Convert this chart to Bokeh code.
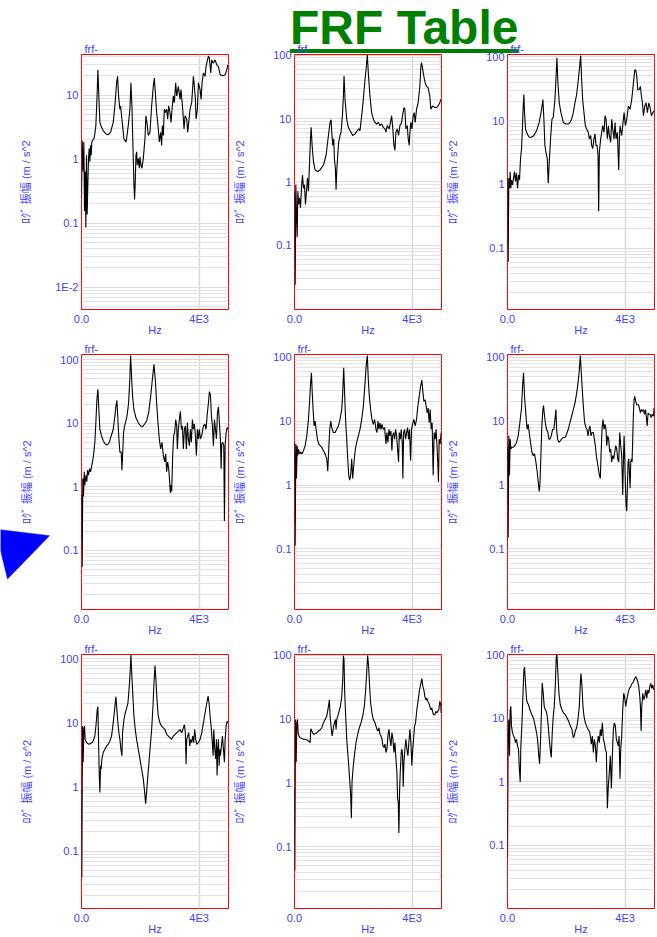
from bokeh.plotting import figure
from bokeh.layouts import column, row
from bokeh.models import Div, FixedTicker, Range1d
from bokeh.embed import file_html
from bokeh.resources import INLINE

# ---------------- data (frequency in Hz, magnitude in m/s^2) ----------------
f1 = [0, 23, 57, 80, 102, 125, 148, 170, 193, 216,
      239, 261, 284, 307, 330, 352, 375, 420, 454, 488,
      511, 534, 557, 579, 602, 625, 682, 738, 829, 909,
      988, 1079, 1136, 1193, 1227, 1261, 1306, 1329, 1397, 1443,
      1511, 1534, 1590, 1647, 1681, 1715, 1738, 1761, 1784, 1806,
      1829, 1852, 1875, 1897, 1931, 1965, 1988, 2022, 2056, 2102,
      2158, 2192, 2238, 2272, 2329, 2386, 2442, 2477, 2511, 2556,
      2613, 2647, 2692, 2726, 2749, 2783, 2817, 2851, 2897, 2931,
      2965, 3010, 3045, 3079, 3124, 3158, 3204, 3238, 3295, 3351,
      3385, 3442, 3488, 3522, 3578, 3613, 3647, 3692, 3749, 3806,
      3840, 3874, 3897, 3942, 3976, 4033, 4067, 4101, 4146, 4203,
      4237, 4271, 4317, 4351, 4396, 4430, 4487, 4544, 4601, 4658,
      4715, 4806, 4885, 4942, 4976]
a1 = [0.25, 1.96, 0.64, 1.85, 0.155, 0.64, 0.086, 1.15, 0.137, 0.40,
      1.02, 1.46, 0.91, 1.64, 1.15, 1.85, 1.96, 2.08, 2.48, 3.33,
      6.02, 10.9, 24.8, 13.7, 6.77, 3.75, 3.14, 2.79, 2.48, 2.40,
      2.63, 3.75, 6.77, 15.5, 19.6, 9.66, 6.02, 6.77, 3.33, 2.08,
      1.85, 2.08, 3.33, 6.02, 15.5, 6.77, 2.63, 1.02, 0.40, 0.234,
      0.45, 1.15, 1.30, 0.81, 1.02, 0.72, 1.08, 0.81, 0.72, 1.02,
      2.08, 4.75, 3.33, 2.34, 2.63, 6.77, 13.7, 18.5, 10.9, 5.35,
      2.96, 1.85, 2.63, 1.64, 3.33, 2.34, 6.02, 5.35, 6.02, 4.22,
      6.77, 5.35, 3.75, 6.02, 9.66, 7.62, 15.5, 9.66, 13.7, 8.58,
      12.2, 6.02, 2.96, 4.75, 4.22, 2.63, 3.75, 6.02, 7.62, 19.6,
      13.7, 8.58, 4.22, 6.02, 15.5, 12.2, 8.58, 15.5, 22.1, 19.6,
      27.9, 33.3, 40.7, 37.5, 22.1, 35.4, 31.4, 35.4, 29.6, 27.9,
      20.8, 20.1, 20.8, 24.8, 29.6]

f2 = [0, 23, 45, 68, 90, 113, 136, 170, 204, 238,
      271, 305, 339, 373, 407, 441, 475, 509, 543, 566,
      599, 645, 701, 780, 871, 984, 1074, 1154, 1210, 1244,
      1267, 1301, 1335, 1357, 1391, 1414, 1436, 1470, 1504, 1549,
      1583, 1629, 1663, 1685, 1719, 1776, 1832, 1889, 1979, 2058,
      2138, 2183, 2228, 2285, 2341, 2398, 2443, 2477, 2511, 2567,
      2624, 2681, 2737, 2794, 2850, 2907, 2963, 3020, 3076, 3110,
      3155, 3223, 3303, 3336, 3382, 3416, 3450, 3495, 3540, 3585,
      3642, 3676, 3721, 3755, 3789, 3834, 3868, 3902, 3925, 3959,
      3992, 4038, 4072, 4106, 4151, 4207, 4264, 4298, 4320, 4354,
      4400, 4445, 4490, 4547, 4603, 4637, 4694, 4773, 4829, 4886,
      4943, 4976]
a2 = [0.713, 0.024, 0.905, 0.31, 0.135, 0.713, 0.443, 0.562, 0.393, 0.80,
      1.29, 0.80, 0.905, 0.443, 0.713, 1.15, 0.713, 1.85, 4.80, 7.28,
      3.78, 2.08, 1.55, 1.46, 1.55, 1.85, 2.64, 5.40, 8.69, 9.57,
      6.09, 3.78, 4.80, 2.35, 1.64, 0.757, 1.46, 2.64, 4.26, 5.40,
      6.09, 11.0, 22.6, 47.2, 20.0, 9.80, 7.28, 6.46, 5.40, 5.73,
      6.46, 6.86, 6.46, 11.0, 20.0, 40.9, 65.9, 100, 51.9, 22.6,
      12.4, 9.80, 8.69, 8.20, 8.69, 7.73, 8.20, 7.28, 6.86, 6.09,
      7.73, 6.86, 11.0, 7.73, 3.78, 3.16, 6.09, 6.86, 5.40, 7.73,
      8.69, 11.0, 14.9, 14.0, 6.86, 7.73, 4.80, 3.78, 6.09, 8.69,
      6.86, 11.0, 12.4, 8.69, 14.0, 17.8, 32.3, 65.9, 76, 62.1,
      46.1, 36.3, 32.3, 30.4, 22.6, 14.0, 15.8, 14.9, 14.9, 15.8,
      17.8, 20.0]

f3 = [0, 23, 45, 68, 91, 114, 136, 170, 204, 239,
      273, 307, 341, 375, 409, 443, 477, 511, 534, 557,
      579, 613, 670, 738, 818, 897, 988, 1079, 1159, 1204,
      1238, 1272, 1306, 1352, 1386, 1420, 1465, 1511, 1556, 1613,
      1647, 1681, 1715, 1760, 1818, 1897, 1988, 2068, 2124, 2181,
      2238, 2295, 2352, 2408, 2454, 2488, 2522, 2556, 2601, 2647,
      2692, 2749, 2783, 2829, 2863, 2897, 2942, 2976, 3010, 3045,
      3079, 3101, 3124, 3170, 3204, 3238, 3283, 3317, 3351, 3397,
      3431, 3465, 3510, 3544, 3578, 3624, 3658, 3692, 3737, 3783,
      3806, 3828, 3885, 3919, 3965, 4010, 4056, 4112, 4169, 4226,
      4283, 4328, 4362, 4396, 4430, 4476, 4521, 4555, 4589, 4624,
      4669, 4714, 4760, 4805, 4851, 4896, 4942, 4987]
a3 = [1.25, 0.061, 1.25, 0.87, 1.58, 0.87, 1.17, 0.98, 1.25, 1.58,
      1.11, 1.49, 0.87, 1.40, 1.17, 2.54, 3.62, 8.30, 16.9, 25.6,
      13.3, 7.38, 6.18, 5.48, 5.48, 5.82, 6.95, 9.35, 15.0, 21.4,
      10.5, 4.08, 3.21, 2.54, 1.04, 2.25, 5.17, 10.5, 11.2, 21.4,
      43.6, 96.5, 38.7, 19.0, 13.3, 9.35, 8.81, 8.81, 9.35, 10.5,
      13.3, 19.0, 25.6, 43.6, 70.2, 105, 43.6, 21.4, 13.3, 8.30,
      7.38, 6.55, 5.17, 5.82, 4.08, 3.62, 5.17, 6.18, 4.08, 4.08,
      2.86, 0.38, 3.21, 5.17, 6.55, 8.30, 6.55, 11.9, 10.5, 5.17,
      8.30, 5.82, 4.59, 10.5, 7.38, 5.17, 9.35, 5.17, 6.55, 1.68,
      5.17, 8.30, 5.82, 8.30, 13.3, 8.30, 10.5, 16.9, 15.0, 21.4,
      38.7, 62.2, 62.2, 49.1, 30.6, 30.6, 34.4, 24.1, 19.0, 11.9,
      16.9, 19.0, 13.3, 19.0, 15.9, 11.9, 13.3, 14.2]

f4 = [0, 23, 45, 68, 91, 114, 136, 159, 182, 204,
      239, 273, 307, 341, 375, 409, 454, 488, 523, 557,
      591, 625, 682, 738, 807, 875, 943, 1011, 1079, 1136,
      1170, 1204, 1238, 1272, 1306, 1352, 1375, 1397, 1431, 1465,
      1511, 1556, 1602, 1647, 1670, 1704, 1738, 1784, 1852, 1931,
      2011, 2079, 2147, 2215, 2283, 2352, 2420, 2465, 2511, 2556,
      2601, 2647, 2692, 2738, 2783, 2829, 2863, 2897, 2931, 2965,
      2999, 3022, 3045, 3067, 3101, 3135, 3169, 3204, 3238, 3260,
      3294, 3328, 3363, 3397, 3431, 3465, 3499, 3533, 3567, 3601,
      3635, 3669, 3703, 3737, 3772, 3806, 3840, 3874, 3908, 3942,
      3976, 4010, 4044, 4090, 4146, 4192, 4237, 4271, 4317, 4351,
      4385, 4419, 4453, 4487, 4521, 4556, 4590, 4624, 4658, 4692,
      4726, 4749, 4771, 4805, 4839, 4862, 4885, 4919, 4953, 4987]
a4 = [0.75, 0.055, 1.36, 0.71, 1.73, 1.07, 1.36, 1.53, 1.21, 1.83,
      1.53, 1.94, 1.73, 2.06, 2.47, 3.13, 5.03, 10.2, 23.5, 34.3,
      16.4, 8.07, 6.37, 5.34, 4.73, 4.57, 5.03, 6.37, 8.07, 13.0,
      18.5, 22.9, 11.5, 5.66, 3.52, 3.52, 1.83, 3.13, 7.17, 9.10,
      10.9, 13.8, 20.9, 54, 117, 54, 26.5, 16.4, 12.2, 10.2,
      9.10, 8.88, 9.76, 10.9, 14.6, 26.5, 54, 84.7, 47.9, 20.9,
      10.2, 5.66, 3.96, 5.03, 3.13, 2.47, 3.32, 1.73, 2.47, 1.94,
      1.21, 0.80, 1.07, 0.85, 3.13, 6.37, 7.17, 11.5, 9.10, 3.96,
      8.07, 11.5, 15.5, 8.07, 9.10, 3.96, 8.07, 9.10, 3.96, 10.2,
      5.66, 4.46, 8.07, 5.03, 11.5, 8.07, 9.76, 6.37, 3.13, 8.07,
      5.66, 8.07, 5.66, 6.37, 9.10, 9.76, 8.07, 13.0, 20.9, 31.6,
      28.1, 13.0, 9.10, 4.46, 11.5, 8.07, 5.66, 14.6, 18.1, 10.2,
      5.34, 1.94, 4.73, 5.03, 4.46, 0.29, 4.46, 7.17, 8.57, 8.07]

f5 = [0, 23, 45, 68, 90, 113, 136, 170, 215, 260,
      305, 362, 418, 475, 509, 543, 577, 599, 633, 667,
      701, 735, 780, 826, 871, 927, 984, 1041, 1097, 1131,
      1165, 1199, 1233, 1267, 1323, 1380, 1436, 1493, 1549, 1606,
      1640, 1674, 1708, 1742, 1776, 1810, 1844, 1877, 1911, 1945,
      1979, 2025, 2070, 2115, 2172, 2228, 2285, 2341, 2398, 2443,
      2477, 2511, 2545, 2590, 2635, 2681, 2726, 2771, 2805, 2839,
      2873, 2907, 2941, 2975, 3020, 3065, 3110, 3144, 3178, 3212,
      3246, 3280, 3314, 3336, 3370, 3404, 3438, 3472, 3506, 3540,
      3563, 3597, 3631, 3664, 3687, 3710, 3744, 3778, 3811, 3845,
      3879, 3913, 3947, 3981, 4015, 4060, 4106, 4151, 4196, 4241,
      4286, 4332, 4366, 4400, 4445, 4479, 4513, 4547, 4581, 4615,
      4649, 4682, 4716, 4750, 4784, 4818, 4852, 4875, 4897, 4920,
      4954, 4988]
a5 = [4.64, 0.112, 4.37, 1.27, 4.12, 2.89, 3.66, 3.07, 3.26, 3.07,
      3.45, 4.12, 5.87, 10.6, 19.1, 36.7, 56.7, 30.7, 15.1, 8.38,
      10.0, 7.44, 5.22, 4.37, 4.12, 3.89, 3.45, 3.07, 2.57, 1.64,
      3.66, 7.44, 10.0, 7.89, 6.62, 6.62, 7.44, 8.38, 10.6, 15.1,
      27.3, 68.5, 24.3, 9.43, 5.22, 2.57, 1.42, 1.19, 1.42, 2.57,
      1.27, 2.29, 3.66, 4.64, 5.87, 7.44, 10.6, 17.0, 38.9, 78.9,
      106, 43.8, 24.3, 15.1, 10.6, 8.89, 10.6, 7.44, 6.62, 10.0,
      7.44, 9.43, 7.44, 8.89, 7.44, 7.89, 4.37, 6.62, 4.64, 7.44,
      5.87, 7.02, 3.45, 5.87, 6.62, 5.22, 7.44, 5.87, 3.66, 2.29,
      6.62, 5.22, 7.44, 4.64, 1.27, 6.62, 7.44, 5.22, 6.62, 7.89,
      5.22, 7.44, 2.43, 7.44, 8.89, 10.6, 8.38, 10.6, 17.0, 24.3,
      34.5, 43.8, 28.9, 20.3, 21.5, 17.0, 13.4, 16.0, 9.43, 15.1,
      7.44, 9.43, 1.42, 6.62, 5.22, 7.44, 3.66, 2.15, 1.12, 5.22,
      4.37, 6.62]

f6 = [0, 23, 45, 68, 91, 114, 148, 193, 250, 307,
      364, 420, 477, 511, 545, 579, 613, 648, 670, 704,
      738, 784, 829, 875, 920, 966, 1011, 1056, 1079, 1102,
      1136, 1170, 1204, 1227, 1261, 1295, 1329, 1375, 1409, 1443,
      1488, 1534, 1579, 1613, 1647, 1670, 1704, 1749, 1795, 1840,
      1897, 1954, 2011, 2068, 2124, 2181, 2238, 2295, 2352, 2397,
      2442, 2477, 2511, 2545, 2579, 2624, 2670, 2704, 2738, 2772,
      2806, 2840, 2874, 2920, 2954, 2988, 3022, 3056, 3090, 3124,
      3158, 3181, 3215, 3249, 3283, 3317, 3351, 3374, 3408, 3442,
      3476, 3510, 3544, 3578, 3612, 3647, 3681, 3715, 3749, 3783,
      3817, 3851, 3885, 3919, 3942, 3965, 3988, 4010, 4033, 4056,
      4078, 4101, 4124, 4146, 4169, 4192, 4215, 4237, 4260, 4283,
      4306, 4328, 4362, 4396, 4453, 4487, 4521, 4555, 4589, 4624,
      4658, 4692, 4726, 4749, 4783, 4817, 4851, 4885, 4919, 4965,
      4987]
a6 = [4.12, 0.151, 5.87, 1.42, 5.22, 3.66, 3.89, 3.89, 4.12, 4.64,
      5.87, 9.43, 16.0, 34.5, 56.7, 24.3, 15.1, 9.43, 7.44, 8.89,
      6.62, 4.64, 3.26, 2.89, 3.07, 2.29, 1.60, 1.0, 0.79, 1.0,
      2.89, 8.89, 15.1, 17.4, 11.9, 8.89, 7.44, 6.62, 5.22, 5.22,
      5.87, 7.44, 7.44, 10.6, 15.1, 7.44, 5.22, 4.64, 4.92, 5.22,
      5.54, 5.54, 6.24, 7.44, 9.43, 11.9, 15.1, 19.1, 27.3, 38.9,
      62.4, 106, 55.4, 30.7, 17.0, 9.43, 7.89, 7.44, 5.87, 7.44,
      8.38, 5.87, 6.62, 6.62, 5.22, 4.12, 2.89, 2.29, 1.80, 1.42,
      1.27, 2.89, 7.44, 10.6, 7.44, 8.89, 7.44, 4.12, 5.87, 5.22,
      3.26, 3.66, 2.29, 2.89, 2.57, 3.26, 4.12, 3.66, 2.57, 2.29,
      6.62, 4.12, 2.89, 0.70, 2.29, 5.87, 2.57, 1.0, 0.49, 0.39,
      0.89, 2.29, 2.57, 1.60, 0.89, 2.29, 2.57, 2.29, 5.22, 13.4,
      21.5, 24.3, 20.3, 18.0, 18.0, 16.0, 13.4, 15.1, 14.3, 15.1,
      12.7, 15.1, 11.3, 8.38, 13.4, 12.7, 12.7, 11.3, 12.7, 11.9,
      16.0]

f7 = [0, 11, 34, 57, 80, 102, 125, 148, 193, 261,
      329, 398, 454, 500, 534, 557, 579, 602, 625, 648,
      670, 693, 738, 795, 852, 909, 966, 1022, 1079, 1125,
      1170, 1204, 1238, 1272, 1306, 1340, 1375, 1397, 1443, 1488,
      1534, 1579, 1624, 1659, 1681, 1715, 1749, 1784, 1829, 1874,
      1931, 1988, 2045, 2102, 2147, 2181, 2215, 2249, 2295, 2340,
      2386, 2431, 2465, 2499, 2533, 2567, 2613, 2670, 2726, 2783,
      2840, 2897, 2954, 3010, 3067, 3124, 3181, 3238, 3294, 3351,
      3408, 3465, 3499, 3533, 3556, 3578, 3612, 3647, 3681, 3715,
      3749, 3783, 3817, 3851, 3885, 3919, 3976, 4033, 4090, 4146,
      4203, 4260, 4306, 4340, 4374, 4408, 4442, 4476, 4499, 4533,
      4567, 4590, 4612, 4635, 4658, 4681, 4703, 4726, 4760, 4794,
      4828, 4862, 4885, 4919, 4953, 4987]
a7 = [0.94, 0.039, 8.89, 2.43, 8.38, 8.89, 5.54, 5.22, 4.81, 4.64,
      4.81, 5.22, 6.24, 10.0, 16.0, 18.0, 5.54, 1.70, 0.82, 2.15,
      1.91, 2.73, 3.45, 3.89, 4.37, 4.64, 5.22, 6.24, 10.0, 16.0,
      25.7, 16.0, 10.0, 7.02, 5.54, 3.89, 3.07, 7.02, 11.3, 14.3,
      17.0, 20.3, 36.6, 66.2, 115, 52.3, 25.7, 12.7, 7.89, 5.54,
      3.89, 2.73, 1.91, 1.34, 0.84, 0.55, 0.84, 1.34, 2.43, 4.37,
      7.89, 18.0, 41.3, 78.9, 46.4, 22.9, 12.7, 10.0, 8.89, 8.38,
      7.89, 6.62, 6.24, 5.87, 5.54, 6.24, 6.62, 7.02, 7.44, 7.89,
      7.02, 8.38, 9.43, 7.02, 2.29, 5.54, 6.24, 7.02, 4.37, 5.54,
      4.92, 6.24, 4.92, 7.89, 5.54, 4.64, 4.92, 5.54, 7.02, 10.0,
      14.3, 20.3, 26.3, 20.3, 12.7, 8.89, 5.54, 3.07, 7.89, 3.89,
      2.73, 5.54, 1.51, 3.89, 5.54, 2.15, 3.89, 3.07, 4.37, 6.24,
      3.89, 2.43, 5.54, 8.89, 10.6, 10.0]

f8 = [0, 11, 34, 57, 79, 102, 124, 147, 192, 249,
      305, 362, 418, 475, 532, 554, 588, 645, 701, 758,
      814, 871, 927, 984, 1041, 1097, 1154, 1188, 1210, 1244,
      1278, 1301, 1323, 1357, 1391, 1414, 1436, 1470, 1516, 1561,
      1606, 1640, 1663, 1685, 1708, 1742, 1776, 1810, 1844, 1889,
      1911, 1934, 1957, 1991, 2036, 2092, 2149, 2205, 2262, 2319,
      2375, 2420, 2454, 2488, 2522, 2556, 2590, 2635, 2681, 2737,
      2771, 2805, 2839, 2873, 2907, 2941, 2975, 3008, 3042, 3076,
      3110, 3144, 3178, 3212, 3246, 3280, 3314, 3348, 3382, 3416,
      3450, 3483, 3506, 3529, 3551, 3574, 3597, 3631, 3653, 3676,
      3698, 3721, 3755, 3789, 3823, 3857, 3891, 3925, 3959, 3992,
      4015, 4049, 4083, 4117, 4162, 4207, 4253, 4298, 4332, 4366,
      4400, 4434, 4467, 4501, 4535, 4569, 4603, 4637, 4671, 4705,
      4739, 4773, 4807, 4841, 4875, 4909, 4943, 4976, 4988]
a8 = [0.82, 0.042, 9.88, 2.11, 8.78, 9.88, 6.15, 5.46, 5.14, 4.96,
      4.85, 4.85, 4.73, 4.57, 4.31, 7.09, 6.52, 5.79, 5.93, 6.15,
      6.52, 6.76, 7.35, 8.78, 9.88, 11.1, 15.9, 20.1, 11.1, 7.80,
      5.46, 6.15, 7.35, 8.78, 9.88, 6.92, 9.88, 11.1, 13.3, 15.9,
      22.7, 41.0, 100, 83.7, 25.5, 11.1, 4.85, 3.01, 1.88, 0.92,
      0.64, 0.28, 1.04, 1.67, 2.68, 4.31, 5.79, 7.35, 8.78, 11.1,
      15.9, 28.8, 52.0, 100, 66.1, 32.4, 17.9, 12.5, 9.88, 8.78,
      7.80, 6.92, 6.52, 7.35, 5.79, 5.46, 4.85, 3.82, 3.60, 4.06,
      3.01, 3.40, 5.46, 6.92, 4.85, 3.82, 6.15, 4.85, 3.01, 4.31,
      2.38, 1.48, 0.57, 0.51, 0.164, 0.73, 1.48, 3.01, 3.40, 2.68,
      0.87, 2.11, 3.40, 4.85, 3.40, 2.68, 4.31, 6.92, 4.31, 1.88,
      3.01, 4.85, 7.80, 8.78, 14.1, 20.1, 28.8, 36.5, 43.5, 32.4,
      28.8, 22.7, 20.1, 21.4, 19.0, 17.9, 15.9, 14.1, 15.0, 12.5,
      11.8, 11.8, 13.3, 12.5, 13.3, 14.1, 19.0, 16.9, 12.5]

f9 = [0, 23, 45, 68, 91, 114, 136, 170, 204, 239,
      273, 307, 341, 375, 398, 432, 454, 488, 523, 557,
      579, 613, 648, 682, 716, 761, 807, 852, 897, 943,
      988, 1022, 1056, 1091, 1125, 1159, 1181, 1215, 1249, 1284,
      1318, 1352, 1386, 1420, 1454, 1488, 1522, 1556, 1590, 1624,
      1659, 1681, 1715, 1749, 1795, 1852, 1908, 1965, 2022, 2079,
      2136, 2192, 2238, 2272, 2306, 2352, 2397, 2442, 2477, 2499,
      2533, 2567, 2601, 2647, 2692, 2738, 2783, 2817, 2851, 2885,
      2920, 2954, 2988, 3022, 3056, 3090, 3124, 3158, 3192, 3226,
      3260, 3294, 3328, 3363, 3397, 3431, 3465, 3499, 3533, 3567,
      3601, 3635, 3669, 3703, 3737, 3772, 3794, 3828, 3851, 3885,
      3919, 3953, 3987, 4022, 4056, 4101, 4147, 4192, 4237, 4283,
      4328, 4362, 4396, 4430, 4465, 4499, 4521, 4544, 4567, 4601,
      4635, 4669, 4703, 4737, 4771, 4806, 4840, 4874, 4908, 4942,
      4976]
a9 = [0.064, 5.89, 9.48, 2.56, 13.5, 15.3, 7.47, 5.89, 5.23, 4.93,
      4.12, 4.64, 3.66, 3.25, 1.79, 0.99, 3.66, 7.47, 21.8, 56.5,
      63.7, 35.1, 19.4, 17.2, 16.2, 13.5, 12.0, 10.7, 9.48, 7.47,
      5.89, 4.64, 2.88, 1.90, 4.64, 15.3, 35.9, 24.6, 15.3, 13.5,
      12.8, 10.7, 7.47, 4.64, 3.25, 2.41, 5.89, 10.7, 15.3, 31.2,
      90.9, 100, 50.1, 24.6, 16.2, 13.5, 12.0, 11.3, 10.1, 8.93,
      7.47, 6.64, 4.93, 5.23, 6.25, 7.04, 9.48, 15.3, 35.1, 50.1,
      31.2, 15.3, 10.7, 8.42, 7.47, 6.64, 6.25, 5.23, 3.88, 5.23,
      2.88, 4.64, 3.66, 2.02, 4.12, 5.23, 4.12, 6.64, 5.23, 8.42,
      4.64, 4.12, 3.25, 2.88, 0.38, 0.88, 1.41, 2.56, 0.78, 2.56,
      6.64, 8.42, 7.47, 4.64, 4.12, 3.66, 5.23, 1.11, 3.25, 5.23,
      13.5, 24.6, 20.6, 15.3, 19.4, 24.6, 29.4, 31.2, 35.1, 37.3,
      42.0, 44.6, 42.0, 37.3, 31.2, 21.8, 15.3, 6.25, 15.3, 24.6,
      19.4, 21.8, 27.7, 20.6, 27.7, 24.6, 31.2, 35.1, 29.4, 33.1,
      27.7]

freqs = [f1, f2, f3, f4, f5, f6, f7, f8, f9]
amps = [a1, a2, a3, a4, a5, a6, a7, a8, a9]

# y-axis extents (log axis) per panel
y_lo = [0.0045, 0.0098, 0.0109, 0.0118, 0.0113, 0.0113, 0.0127, 0.0107, 0.0101]
y_hi = [43, 102, 108.6, 121, 110, 110, 117, 103.6, 100]
y_major = [[0.01, 0.1, 1, 10]] + [[0.1, 1, 10, 100]] * 8
y_labels = {0.01: "1E-2", 0.1: "0.1", 1: "1", 10: "10", 100: "100"}
x_ticks = [0, 4000]
x_labels = {0: "0.0", 4000: "4E3"}

title_text = "FRF Table"
panel_title = "frf-"
x_label = "Hz"
y_label = "ﾛｸﾞ 振幅 (m / s^2"

# outline of the blue pointer shape at the left edge of the middle row (pixels in its strip)
marker_x = [0, 49, 7, 0]
marker_y = [194, 200, 244, 214.8]

BLUE = "#4040ff"
FONT = "Liberation Sans"
CJK = "'Liberation Sans', 'Noto Sans CJK JP', sans-serif"


def make_panel(i):
    r, c = divmod(i, 3)
    left = 81 if c == 0 else 65
    right = 3 if c == 2 else 1
    top = 16
    bottom = 24 if r == 2 else 25
    lo, hi = y_lo[i], y_hi[i]
    p = figure(width=left + 147 + right, height=top + 259 + bottom,
               x_range=Range1d(0, 5000), y_range=Range1d(lo, hi),
               y_axis_type="log", output_backend="svg", toolbar_location=None,
               min_border_left=left, min_border_right=right,
               min_border_top=top, min_border_bottom=bottom,
               title=panel_title)
    p.border_fill_color = None
    p.background_fill_color = "white"
    p.outline_line_color = "red"
    p.outline_line_width = 1
    p.outline_line_alpha = 1

    t = p.title
    t.text_font = FONT
    t.text_font_size = "11px"
    t.text_font_style = "normal"
    t.text_color = BLUE
    t.align = "left"
    t.offset = 3
    t.standoff = 0

    minors = [k * 10.0 ** e for e in range(-3, 3) for k in range(2, 10)
              if lo <= k * 10.0 ** e <= hi]
    yt = FixedTicker(ticks=y_major[i], minor_ticks=minors)
    ya = p.yaxis[0]
    ya.ticker = yt
    ya.major_label_overrides = {k: y_labels[k] for k in y_major[i]}
    ya.axis_label = y_label
    ya.axis_label_text_font = CJK
    ya.axis_label_text_font_size = "11px"
    ya.axis_label_text_font_style = "normal"
    ya.axis_label_text_color = BLUE
    ya.axis_label_standoff = 20 if i == 0 else 24
    ya.major_label_text_font = FONT
    ya.major_label_text_font_size = "11px"
    ya.major_label_text_color = BLUE
    ya.major_label_standoff = 3
    ya.axis_line_color = None
    ya.major_tick_line_color = None
    ya.minor_tick_line_color = None
    ya.major_tick_out = 0
    ya.major_tick_in = 0
    ya.minor_tick_out = 0
    ya.minor_tick_in = 0

    xa = p.xaxis[0]
    xa.ticker = FixedTicker(ticks=x_ticks)
    xa.major_label_overrides = x_labels
    xa.axis_label = x_label
    xa.axis_label_text_font = FONT
    xa.axis_label_text_font_size = "11px"
    xa.axis_label_text_font_style = "normal"
    xa.axis_label_text_color = BLUE
    xa.axis_label_standoff = -4
    xa.major_label_text_font = FONT
    xa.major_label_text_font_size = "11px"
    xa.major_label_text_color = BLUE
    xa.major_label_standoff = 3
    xa.axis_line_color = None
    xa.major_tick_line_color = None
    xa.minor_tick_line_color = None
    xa.major_tick_out = 0
    xa.major_tick_in = 0

    p.ygrid.ticker = yt
    p.ygrid.grid_line_color = "#dcdcdc"
    p.ygrid.minor_grid_line_color = "#e2e2e2"
    p.xgrid.ticker = FixedTicker(ticks=[4000])
    p.xgrid.grid_line_color = "#d8d8d8"
    p.xgrid.grid_line_width = 1.5

    p.line(freqs[i], amps[i], line_color="black", line_width=1.1)
    return p


figs = [make_panel(i) for i in range(9)]

# full-height transparent strip holding the blue pointer; the first panel of row 2 overlaps it.
# Its frame uses the same borders as the panels, and its y range is in strip pixels.
mk = figure(width=56, height=300, x_range=Range1d(0, 56), y_range=Range1d(275, 16),
            output_backend="svg", toolbar_location=None,
            x_axis_location=None, y_axis_location=None,
            min_border_left=0, min_border_right=0, min_border_top=16, min_border_bottom=25,
            margin=(0, -56, 0, 0))
mk.border_fill_color = None
mk.background_fill_color = None
mk.outline_line_color = None
mk.grid.visible = False
mk.patch(marker_x, marker_y, fill_color="#0000ff", line_color="#0000ff", line_width=0.5)

title_div = Div(
    text=('<div style="font-family: \'Liberation Sans\', Arial, sans-serif; font-weight: bold; '
          'font-size: 48px; line-height: 48px; color: #008000; text-decoration: underline; '
          'text-decoration-thickness: 4px; text-underline-offset: 5px; padding-left: 290px; '
          'padding-top: 4px; white-space: nowrap;">' + title_text + '</div>'),
    width=657, height=54, margin=(0, 0, -16, 0))

layout = column(title_div, row(*figs[0:3]), row(mk, *figs[3:6]), row(*figs[6:9]))

open("out.html", "w").write(file_html(layout, INLINE))
